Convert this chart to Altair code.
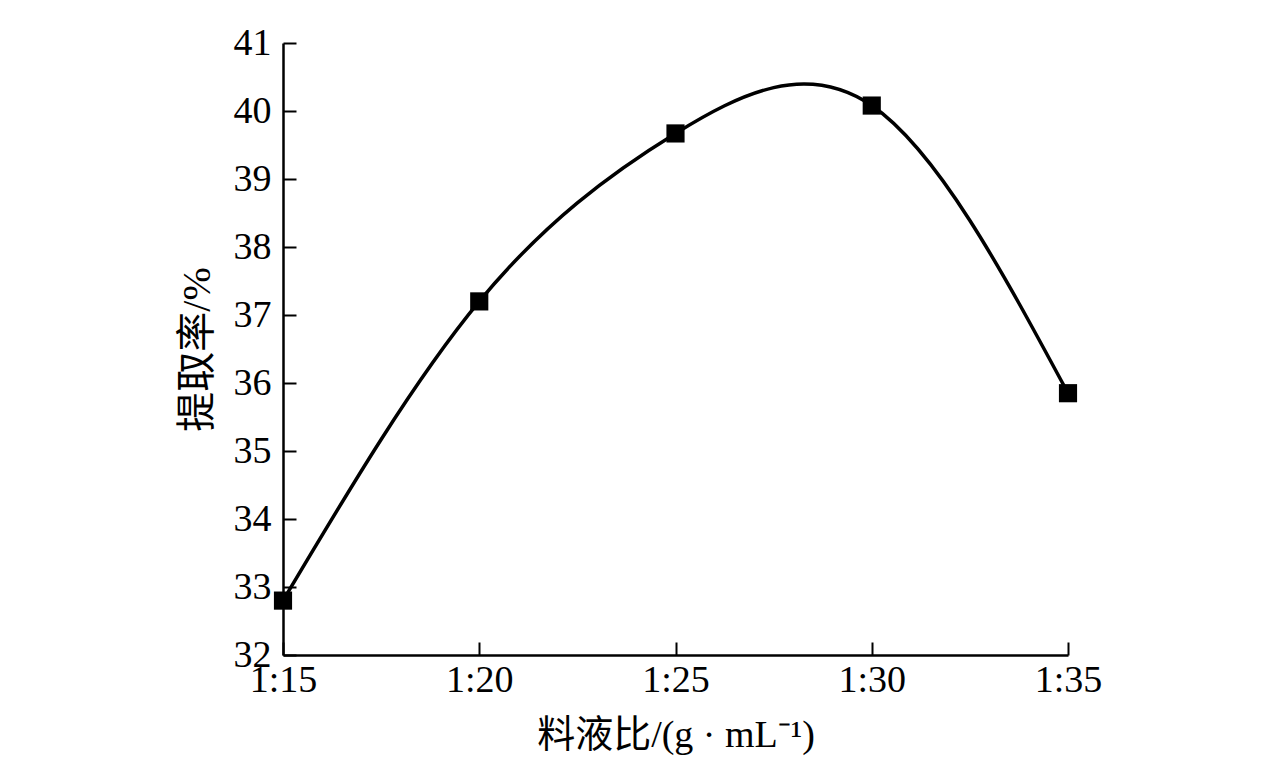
import altair as alt
import pandas as pd

ratio = [15, 20, 25, 30, 35]
rate = [32.8, 37.2, 39.67, 40.08, 35.85]
y_ticks = [32, 33, 34, 35, 36, 37, 38, 39, 40, 41]
x_ticks = [15, 20, 25, 30, 35]

df = pd.DataFrame({"ratio": ratio, "rate": rate})

FONT = "Liberation Serif, Times New Roman, Noto Sans CJK SC"
xs = alt.Scale(domain=[15, 35], nice=False, zero=False)
ys = alt.Scale(domain=[32, 41], nice=False, zero=False)

base = alt.Chart(df)

line = base.mark_line(interpolate="natural", color="black", strokeWidth=3.5).encode(
    x=alt.X("ratio:Q", scale=xs,
            axis=alt.Axis(orient="bottom", values=x_ticks, labelExpr="'1:' + datum.value",
                          ticks=False, grid=False, domainColor="black", domainWidth=2.5,
                          labelFont=FONT, labelFontSize=38, labelColor="black", labelPadding=6,
                          labelFlush=False, labelOverlap=False,
                          title="料液比/(g · mL⁻¹)", titleFont=FONT, titleFontSize=38,
                          titleFontWeight="normal", titleColor="black", titlePadding=17)),
    y=alt.Y("rate:Q", scale=ys,
            axis=alt.Axis(orient="left", values=y_ticks, ticks=False, grid=False,
                          domainColor="black", domainWidth=2.5,
                          labelFont=FONT, labelFontSize=38, labelColor="black", labelPadding=12,
                          labelFlush=False, labelOverlap=False,
                          title="提取率/%", titleFont=FONT, titleFontSize=40,
                          titleFontWeight="normal", titleColor="black", titlePadding=16)),
)

points = base.mark_square(size=330, color="black", opacity=1, filled=True).encode(
    x=alt.X("ratio:Q", scale=xs,
            axis=alt.Axis(orient="bottom", values=x_ticks, labels=False, domain=False, grid=False,
                          ticks=True, tickSize=13, tickWidth=2, tickColor="black", offset=-13,
                          title=None)),
    y=alt.Y("rate:Q", scale=ys,
            axis=alt.Axis(orient="left", values=y_ticks, labels=False, domain=False, grid=False,
                          ticks=True, tickSize=13, tickWidth=2, tickColor="black", offset=-13,
                          title=None)),
)

chart = alt.layer(line, points).resolve_axis(x="independent", y="independent").properties(
    width=785, height=612,
    autosize=alt.AutoSizeParams(type="none"),
    padding={"left": 275, "top": 35, "right": 200, "bottom": 106},
    background="white",
).configure_view(stroke=None)

chart.save("out.html", embed_options={"renderer": "svg", "actions": False})
